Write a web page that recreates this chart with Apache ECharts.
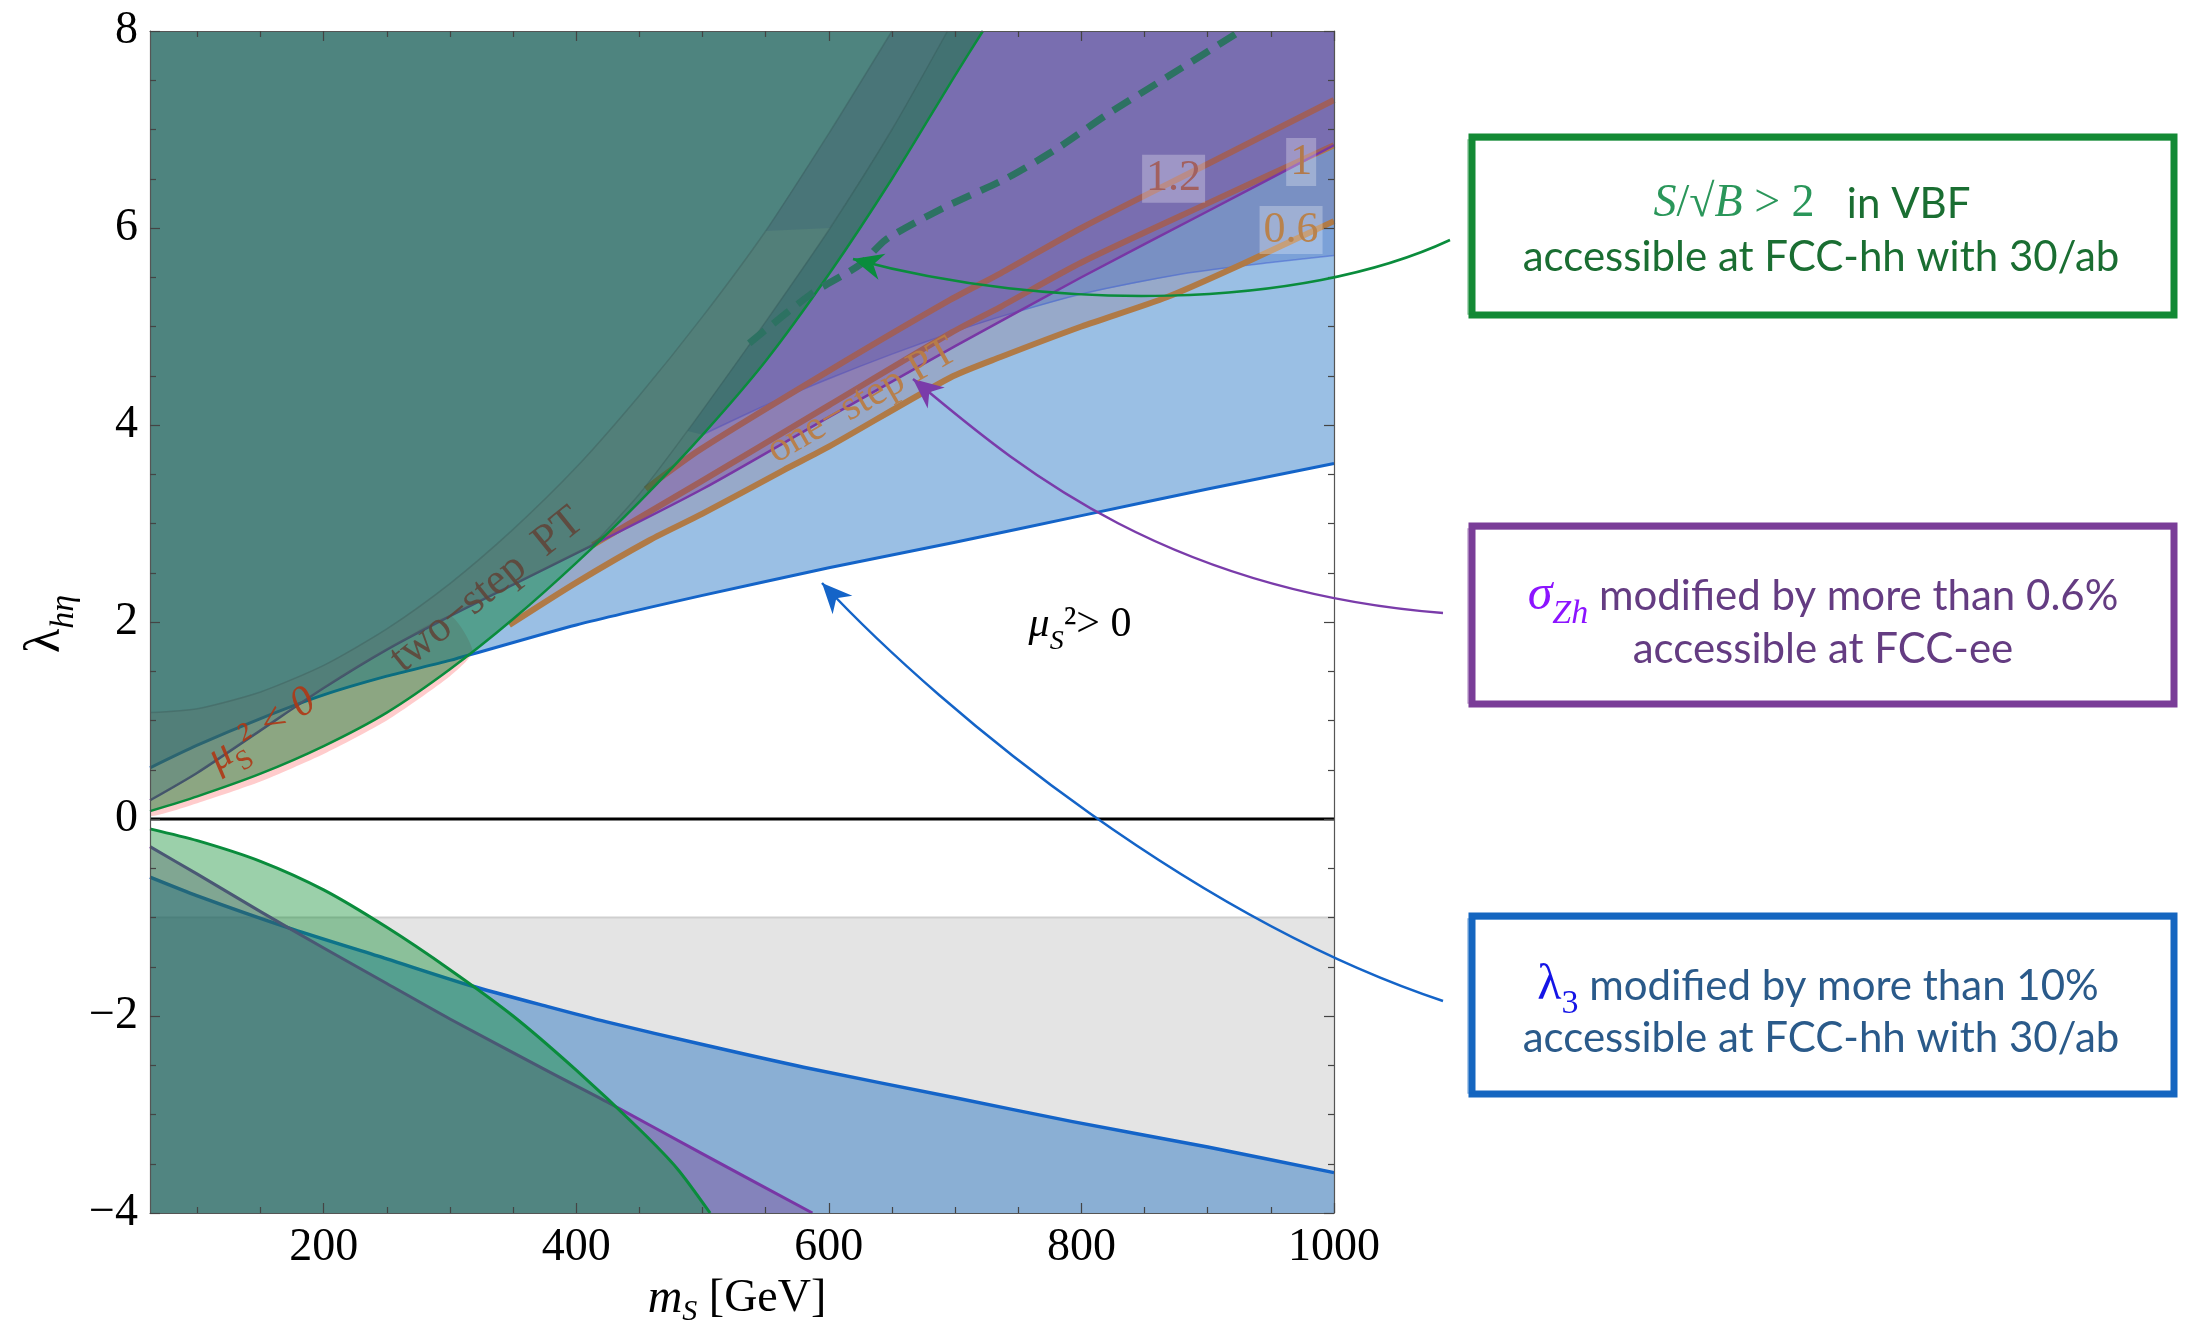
<!DOCTYPE html>
<html><head><meta charset="utf-8">
<script src="https://cdn.jsdelivr.net/npm/echarts@6.0.0/dist/echarts.min.js"></script>
<style>html,body{margin:0;padding:0;background:#fff}#chart{width:2186px;height:1329px}</style>
</head><body><div id="chart"></div>
<script>
// ---------------- data ----------------
const xMin = 62.5, xMax = 1000, yMin = -4, yMax = 8;
const xMajorTicks = [200, 400, 600, 800, 1000];
const xMinorTicks = [100,150,250,300,350,450,500,550,650,700,750,850,900,950];
const yMajorTicks = [-4,-2,0,2,4,6,8];
const yMinorTicks = [-3.5,-3,-2.5,-1.5,-1,-0.5,0.5,1,1.5,2.5,3,3.5,4.5,5,5.5,6.5,7,7.5];

// upper half (lambda > 0)
const greenUpper  = [[62.5,0.08],[100,0.23],[150,0.46],[200,0.74],[250,1.08],[300,1.52],[350,2.03],[400,2.6],[450,3.22],[500,3.9],[550,4.65],[600,5.53],[650,6.5],[700,7.55],[722,8.0]];
const pinkLower   = [[62.5,0.03],[100,0.16],[150,0.38],[200,0.66],[250,1.0],[300,1.45],[318,1.7]];
const blueUpper   = [[62.5,0.52],[100,0.75],[150,1.02],[200,1.26],[250,1.45],[300,1.61],[400,1.97],[500,2.27],[600,2.55],[700,2.81],[800,3.08],[900,3.35],[1000,3.61]];
const purpleUpper = [[62.5,0.19],[100,0.47],[150,0.9],[200,1.33],[250,1.72],[300,2.06],[350,2.38],[413,2.78],[500,3.35],[600,4.08],[700,4.8],[800,5.5],[900,6.17],[1000,6.84]];
const twoStepUpper = [[62.5,1.08],[100,1.12],[150,1.29],[200,1.56],[250,1.93],[300,2.39],[350,2.94],[400,3.57],[450,4.3],[500,5.1],[550,5.97],[600,6.96],[650,8.0]];
const twoStepLower = [[413,2.78],[450,3.3],[488,3.94],[550,5.05],[601,6.0],[650,7.0],[694,8.0]];
const faintBlue   = [[500,3.9],[550,4.2],[600,4.47],[650,4.72],[700,4.95],[736,5.1],[800,5.33],[883,5.54],[950,5.65],[1000,5.72]];
const contour06   = [[347,1.97],[400,2.4],[458,2.83],[500,3.1],[564,3.54],[600,3.78],[696,4.48],[736,4.69],[800,5.0],[868,5.3],[930,5.65],[1000,6.07]];
const contour10   = [[413,2.78],[498,3.42],[600,4.2],[696,4.93],[736,5.2],[800,5.65],[900,6.25],[1000,6.84]];
const contour12   = [[455,3.35],[498,3.75],[600,4.55],[696,5.27],[736,5.54],[800,6.0],[900,6.65],[1000,7.3]];
const vbfDashed   = [[537,4.83],[586,5.33],[625,5.63],[645,5.88],[690,6.2],[740,6.5],[780,6.8],[820,7.15],[870,7.55],[926,8.0]];
const contourLabels = ['1.2', '1', '0.6'];
const contourLabelAt = [[873,6.5],[974,6.67],[966,5.98]];

// lower half (lambda < 0)
const greenLower  = [[62.5,-0.1],[100,-0.22],[150,-0.43],[200,-0.72],[250,-1.1],[300,-1.53],[350,-2.0],[400,-2.55],[450,-3.15],[480,-3.55],[506,-4.0]];
const purpleLower = [[62.5,-0.28],[100,-0.56],[150,-0.94],[200,-1.31],[250,-1.67],[300,-2.03],[379,-2.57],[424,-2.87],[500,-3.4],[587,-4.0]];
const blueLower   = [[62.5,-0.59],[100,-0.78],[171,-1.1],[250,-1.42],[316,-1.69],[379,-1.91],[424,-2.06],[500,-2.29],[580,-2.52],[700,-2.83],[792,-3.07],[900,-3.33],[1000,-3.59]];
const grayBandTop = -1, grayBandBottom = -4;

// ---------------- styling ----------------
const serif = "'Liberation Serif','Times New Roman','DejaVu Serif',serif";
const sans = "Lato,'Open Sans','Noto Sans',sans-serif";
const SM = 0.25;

const chart = echarts.init(document.getElementById('chart'), null, {renderer:'canvas', width:2186, height:1329});

function poly(pts, fill, smooth) {
  return { type:'custom', coordinateSystem:'cartesian2d', silent:true, animation:false, clip:true,
    data:[[500,0]],
    renderItem: function(params, api){
      return {type:'polygon', shape:{points: pts.map(p => api.coord(p)), smooth: smooth || 0}, style:{fill: fill}};
    } };
}
function line(pts, color, width, dash) {
  return { type:'line', data:pts, showSymbol:false, symbol:'none', silent:true, animation:false, clip:true,
    smooth:SM,
    lineStyle:{color:color, width:width, type: dash || 'solid', cap:'butt', join:'round'} };
}
function area(pts, fill, origin) {
  return { type:'line', data:pts, showSymbol:false, symbol:'none', silent:true, animation:false, clip:true,
    smooth:SM,
    lineStyle:{width:0, opacity:0}, areaStyle:{color:fill, origin:origin, opacity:1} };
}
const rev = a => a.slice().reverse();
const yTop = yMax;

// between-curve polygons
const pinkPoly   = pinkLower.concat(rev(purpleUpper.filter(p => p[0] <= 300)));
const oPoly      = contour06.concat([[xMax, yTop]], rev(twoStepLower), rev(greenUpper.filter(p => p[0] > 347 && p[0] < 413)));
const fPoly      = faintBlue.concat([[xMax, yTop]], rev(twoStepLower.filter(p => p[1] >= 3.94)));
const bandPoly   = twoStepUpper.concat(rev(twoStepLower), rev(purpleUpper.filter(p => p[0] < 413)));
const darkPoly   = twoStepUpper.filter(p => p[1] >= 5.95).concat(rev(twoStepLower.filter(p => p[1] >= 5.95)));
const grayPoly   = [[xMin, grayBandTop],[xMax, grayBandTop],[xMax, grayBandBottom],[xMin, grayBandBottom]];

const C = {
  blueFill:'rgba(9,100,189,0.41)', purpleFill:'rgba(120,44,137,0.33)',
  greenFillU:'rgba(0,120,40,0.45)', greenFillL:'rgba(5,137,42,0.40)',
  pink:'rgba(255,110,110,0.35)', oFill:'rgba(145,120,140,0.30)', fFill:'rgba(30,70,180,0.25)',
  band:'rgba(102,108,98,0.20)', dark:'rgba(40,80,120,0.20)', gray:'#e4e4e4',
  blueLine:'#1464c8', purpleLine:'#7837a5', greenLine:'#0a8c3c', orange:'#b07a46', dashed:'#2d7262'
};

const series = [
  poly(grayPoly, C.gray),
  line([[xMin, grayBandTop],[xMax, grayBandTop]], '#cfcfcf', 2),
  poly(pinkPoly, C.pink, 0.2),
  area(blueUpper, C.blueFill, 'end'),
  area(blueLower, C.blueFill, 'start'),
  line(blueUpper, C.blueLine, 3),
  line(blueLower, C.blueLine, 3.5),
  poly(oPoly, C.oFill),
  poly(fPoly, C.fFill),
  line(faintBlue, 'rgba(70,100,210,0.55)', 1.5),
  line(contour06, C.orange, 6),
  line(contour10, C.orange, 6),
  line(contour12, C.orange, 6),
  area(purpleUpper, C.purpleFill, 'end'),
  area(purpleLower, C.purpleFill, 'start'),
  line(purpleUpper, C.purpleLine, 2.5),
  line(purpleLower, C.purpleLine, 3),
  area(greenUpper, C.greenFillU, 'end'),
  area(greenLower, C.greenFillL, 'start'),
  poly(bandPoly, C.band),
  poly(darkPoly, C.dark),
  line(twoStepUpper, 'rgba(50,80,80,0.30)', 1.5),
  line(twoStepLower, 'rgba(50,80,80,0.30)', 1.5),
  line(greenUpper, C.greenLine, 2.5),
  line(greenLower, C.greenLine, 3),
  line(vbfDashed, C.dashed, 7, [20, 11]),
  line([[xMin, 0],[xMax, 0]], '#000', 3),
  { type:'custom', coordinateSystem:'cartesian2d', silent:true, animation:false,
    data: contourLabelAt,
    renderItem: function(params, api){
      const p = api.coord([api.value(0), api.value(1)]);
      const i = params.dataIndex;
      const cols = ['#a2605f', '#b27a4c', '#b9824c'];
      return {type:'text', x:p[0], y:p[1], style:{text: contourLabels[i], fill: cols[i], fontSize:44, fontFamily: serif,
        align:'center', verticalAlign:'middle', backgroundColor:'rgba(255,255,255,0.28)', padding:[3,4,1,4]}};
    } }
];
series.forEach((s, i) => { s.z = i + 1; s.xAxisIndex = 0; s.yAxisIndex = 0; });

function xAx(pos, ticks, len, showLabel, showLine) {
  return { type:'value', min:xMin, max:xMax, position:pos, z:100,
    axisLine:{show:showLine, onZero:false, lineStyle:{color:'#555', width:1.2}},
    axisTick:{show:true, inside:true, length:len, customValues:ticks, lineStyle:{color:'#444', width:1.2}},
    axisLabel:{show:showLabel, customValues:ticks, margin:12, color:'#000', fontSize:46, fontFamily:serif,
      formatter: v => String(v)},
    splitLine:{show:false} };
}
function yAx(pos, ticks, len, showLabel, showLine) {
  return { type:'value', min:yMin, max:yMax, position:pos, z:100,
    axisLine:{show:showLine, onZero:false, lineStyle:{color:'#555', width:1.2}},
    axisTick:{show:true, inside:true, length:len, customValues:ticks, lineStyle:{color:'#444', width:1.2}},
    axisLabel:{show:showLabel, customValues:ticks, margin:12, color:'#000', fontSize:46, fontFamily:serif,
      formatter: v => v < 0 ? '\u2212' + Math.abs(v) : String(v)},
    splitLine:{show:false} };
}

// ---------------- annotations ----------------
function arrowHead(tip, from, size, color) {
  const dx = tip[0]-from[0], dy = tip[1]-from[1], L = Math.hypot(dx, dy);
  const ux = dx/L, uy = dy/L, px = -uy, py = ux, w = size*0.45;
  const bx = tip[0]-ux*size, by = tip[1]-uy*size;
  return {type:'polygon', silent:true, z:200, shape:{points:[tip,[bx+px*w,by+py*w],[tip[0]-ux*size*0.7,tip[1]-uy*size*0.7],[bx-px*w,by-py*w]]}, style:{fill:color}};
}
function arrow(p0, c1, c2, p3, color) {
  return [
    {type:'bezierCurve', silent:true, z:200, shape:{x1:p0[0],y1:p0[1],cpx1:c1[0],cpy1:c1[1],cpx2:c2[0],cpy2:c2[1],x2:p3[0],y2:p3[1]},
     style:{stroke:color, lineWidth:2.5, fill:null}},
    arrowHead(p3, c2, 30, color)
  ];
}
function box(x, y, w, h, color) {
  return [
    {type:'rect', silent:true, z:200, shape:{x:x, y:y, width:w, height:h}, style:{fill:'#fff', stroke:color, lineWidth:7}},
    {type:'rect', silent:true, z:201, shape:{x:x-4, y:y+3, width:w+6, height:h-4}, style:{fill:null, stroke:color, lineWidth:1.5, opacity:0.45}}
  ];
}
function txt(x, y, text, rich, extra) {
  return Object.assign({type:'text', silent:true, z:210, x:x, y:y,
    style:{text:text, align:'center', verticalAlign:'middle', rich:rich}}, extra || {});
}

const graphic = [].concat(
  box(1472, 137, 702, 178, '#138a35'),
  box(1472, 526, 702, 178, '#7a3d98'),
  box(1472, 916, 702, 178, '#1566c0'),
  [
    txt(1812, 204, '{i|S}{u|/\u221A}{i|B}{u| > 2}{t|   in VBF}', {
      i:{fontFamily:serif, fontStyle:'italic', fontSize:46, fill:'#2a965a'},
      u:{fontFamily:serif, fontSize:46, fill:'#2a965a'},
      t:{fontFamily:sans, fontSize:42, fill:'#1a6e32'} }),
    txt(1821, 257, '{t|accessible at FCC-hh with 30/ab}', { t:{fontFamily:sans, fontSize:42, fill:'#1a6e32'} }),
    txt(1823, 596, '{s|\u03C3}{sub|Zh}{t| modified by more than 0.6%}', {
      s:{fontFamily:serif, fontStyle:'italic', fontSize:50, fill:'#8c14ff', lineHeight:70, verticalAlign:'middle'},
      sub:{fontFamily:serif, fontStyle:'italic', fontSize:34, fill:'#8c14ff', lineHeight:34, verticalAlign:'bottom'},
      t:{fontFamily:sans, fontSize:42, fill:'#643c82', lineHeight:70, verticalAlign:'middle'} }),
    txt(1823, 649, '{t|accessible at FCC-ee}', { t:{fontFamily:sans, fontSize:42, fill:'#643c82'} }),
    txt(1818, 986, '{s|\u03BB}{sub|3}{t| modified by more than 10%}', {
      s:{fontFamily:serif, fontSize:50, fill:'#1414e6', lineHeight:70, verticalAlign:'middle'},
      sub:{fontFamily:serif, fontSize:34, fill:'#1414e6', lineHeight:34, verticalAlign:'bottom'},
      t:{fontFamily:sans, fontSize:42, fill:'#2a5a8a', lineHeight:70, verticalAlign:'middle'} }),
    txt(1821, 1038, '{t|accessible at FCC-hh with 30/ab}', { t:{fontFamily:sans, fontSize:42, fill:'#2a5a8a'} }),
    // axis titles
    txt(737, 1299, '{i|m}{sub|S}{r| [GeV]}', {
      i:{fontFamily:serif, fontStyle:'italic', fontSize:48, fill:'#000', lineHeight:56, verticalAlign:'middle'},
      sub:{fontFamily:serif, fontStyle:'italic', fontSize:30, fill:'#000', lineHeight:26, verticalAlign:'bottom'},
      r:{fontFamily:serif, fontSize:46, fill:'#000', lineHeight:56, verticalAlign:'middle'} }),
    txt(46, 624, '{l|\u03BB}{sub|h\u03B7}', {
      l:{fontFamily:serif, fontSize:50, fill:'#000', lineHeight:70, verticalAlign:'middle'},
      sub:{fontFamily:serif, fontStyle:'italic', fontSize:34, fill:'#000', lineHeight:34, verticalAlign:'bottom'} },
      {rotation: Math.PI/2}),
    // in-plot labels
    txt(487, 590, '{a|two\u2212step  PT}', { a:{fontFamily:serif, fontSize:44, fill:'rgba(95,70,58,0.9)'} }, {rotation: 39*Math.PI/180}),
    txt(862, 401, '{a|one\u2212step PT}', { a:{fontFamily:serif, fontSize:42, fill:'rgba(185,125,70,0.95)'} }, {rotation: 30*Math.PI/180}),
    txt(262, 730, '{m|\u03BC}{sub|S}{m|\u00B2 < 0}', {
      m:{fontFamily:serif, fontStyle:'italic', fontSize:42, fill:'rgba(175,55,20,0.9)', lineHeight:62, verticalAlign:'middle'},
      sub:{fontFamily:serif, fontSize:28, fill:'rgba(175,55,20,0.9)', lineHeight:28, verticalAlign:'bottom'} },
      {rotation: 33*Math.PI/180}),
    txt(1080, 625, '{m|\u03BC}{sub|S}{r|\u00B2> 0}', {
      m:{fontFamily:serif, fontStyle:'italic', fontSize:42, fill:'#000', lineHeight:62, verticalAlign:'middle'},
      sub:{fontFamily:serif, fontStyle:'italic', fontSize:28, fill:'#000', lineHeight:28, verticalAlign:'bottom'},
      r:{fontFamily:serif, fontSize:42, fill:'#000', lineHeight:62, verticalAlign:'middle'} })
  ],
  arrow([1450,240], [1300,310], [1050,312], [853,259], '#0a8c3c'),
  arrow([1443,613], [1150,590], [1000,450], [913,379], '#7a3caa'),
  arrow([1443,1001], [1200,920], [950,720], [822,583], '#1464c8')
);

chart.setOption({
  animation:false,
  backgroundColor:'#fff',
  grid:{left:150, right:852, top:31, bottom:116},
  xAxis:[ xAx('bottom', xMajorTicks, 10, true, true), xAx('bottom', xMinorTicks, 6, false, false),
          xAx('top', xMajorTicks, 10, false, true), xAx('top', xMinorTicks, 6, false, false) ],
  yAxis:[ yAx('left', yMajorTicks, 10, true, true), yAx('left', yMinorTicks, 6, false, false),
          yAx('right', yMajorTicks, 10, false, true), yAx('right', yMinorTicks, 6, false, false) ],
  series: series,
  graphic: graphic
});
</script></body></html>
